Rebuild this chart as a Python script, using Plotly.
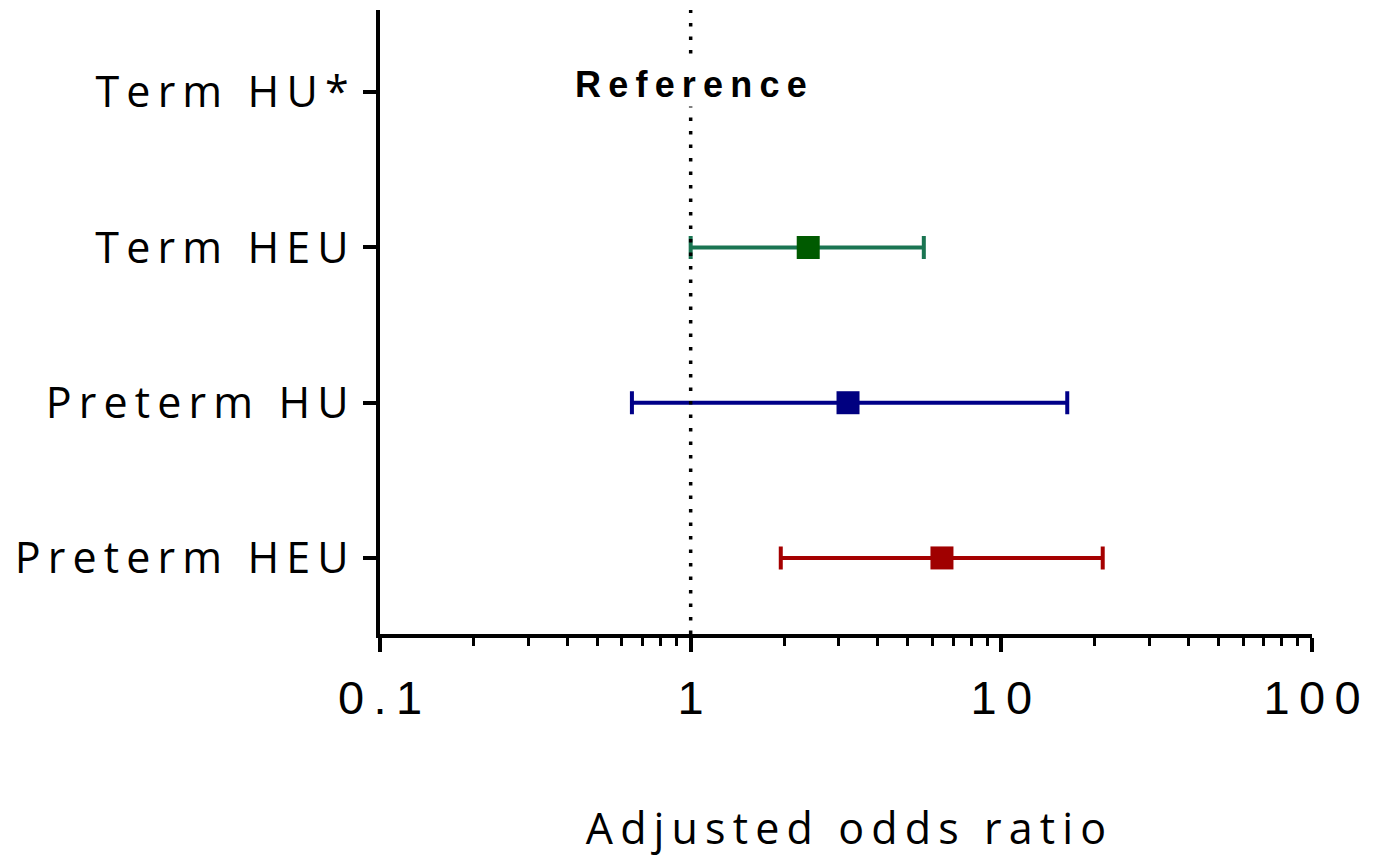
import plotly.graph_objects as go

categories = ["Preterm HEU", "Preterm HU", "Term HEU", "Term HU*"]
plot_groups = ["Preterm HEU", "Preterm HU", "Term HEU"]
odds_ratio = [6.44, 3.21, 2.39]
ci_low = [1.95, 0.647, 1.0]
ci_high = [21.2, 16.3, 5.63]
marker_colors = ["#a00000", "#000080", "#005a00"]
bar_colors = ["#a50000", "#000088", "#1a7552"]
x_tick_vals = [0.1, 1, 10, 100]
x_tick_text = ["0.1", "1", "10", "100"]
x_title = "Adjusted odds ratio"
ref_label = "Reference"

SP = "\u2009"


def spaced(s):
    # wide letter-spacing as in the reference figure
    return SP.join(list(s))


fig = go.Figure()

for g, o, lo, hi, mc, bc in zip(plot_groups, odds_ratio, ci_low, ci_high, marker_colors, bar_colors):
    fig.add_trace(go.Scatter(
        x=[o], y=[g], mode="markers",
        marker=dict(symbol="square", size=23, color=mc),
        error_x=dict(type="data", symmetric=False, array=[hi - o], arrayminus=[o - lo],
                     color=bc, thickness=4, width=11.5),
        showlegend=False,
    ))

# reference line at OR = 1
fig.add_trace(go.Scatter(
    x=[1, 1], y=[0, 1], yaxis="y2", mode="lines",
    line=dict(color="black", width=3.5, dash="3.5px,10px"),
    showlegend=False, hoverinfo="skip",
))

minor_vals = [m * 10 ** e for e in (-1, 0, 1) for m in range(2, 10)]

fig.update_layout(
    width=1365, height=849,
    margin=dict(l=372, r=61, t=2, b=223),
    paper_bgcolor="white", plot_bgcolor="white",
    font=dict(family="Open Sans", color="black"),
    xaxis=dict(
        type="log", range=[-1, 2],
        tickmode="array", tickvals=x_tick_vals, ticktext=[spaced(t) for t in x_tick_text],
        ticks="outside", ticklen=14, tickwidth=3.5, tickcolor="black",
        showline=True, linewidth=3.5, linecolor="black",
        showgrid=False, zeroline=False,
        tickfont=dict(size=47, family="Liberation Sans"),
        ticklabelstandoff=6,
        minor=dict(tickmode="array", tickvals=minor_vals, ticks="outside",
                   ticklen=8, tickwidth=3, tickcolor="black", showgrid=False),
        title=dict(text=spaced(x_title), font=dict(size=43, family="Open Sans"), standoff=99),
    ),
    yaxis=dict(
        type="category", categoryorder="array", categoryarray=categories,
        tickmode="array", tickvals=categories, ticktext=[spaced(c) for c in categories],
        range=[-0.49, 3.53],
        ticks="outside", ticklen=13, tickwidth=3.5, tickcolor="black",
        showline=True, linewidth=3.5, linecolor="black",
        showgrid=False, zeroline=False,
        tickfont=dict(size=43, family="Open Sans"),
        ticklabelstandoff=6,
    ),
    yaxis2=dict(overlaying="y", range=[0, 1], visible=False, fixedrange=True),
    annotations=[dict(
        x=0, xref="x", y=0.881, yref="paper", yanchor="middle", xanchor="center",
        text="<b>" + spaced(ref_label) + "</b>",
        showarrow=False, bgcolor="white",
        font=dict(size=36, family="Liberation Sans", color="black"),
    )],
)

fig.write_html("out.html")
